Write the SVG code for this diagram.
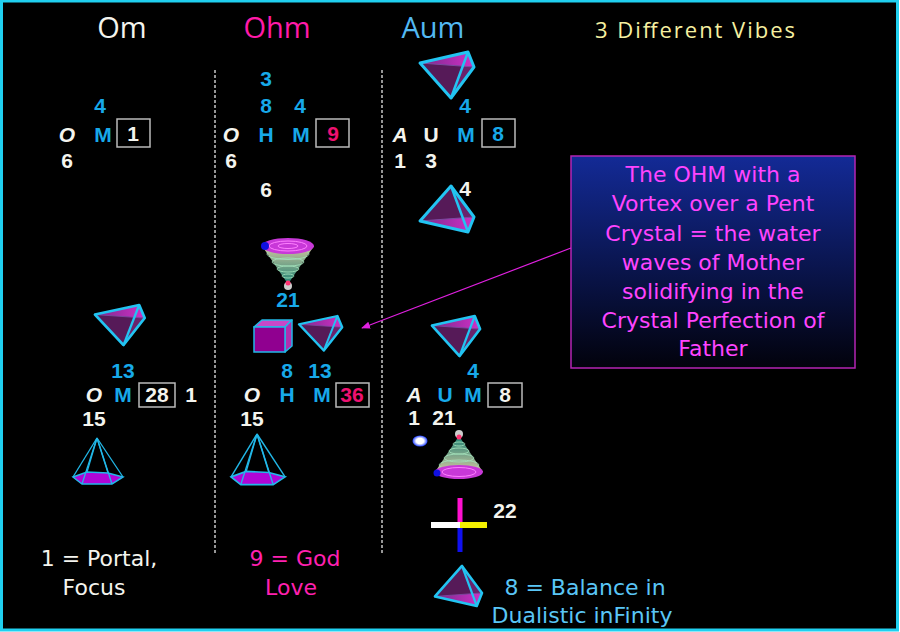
<svg xmlns="http://www.w3.org/2000/svg" xmlns:xlink="http://www.w3.org/1999/xlink" width="900" height="632" viewBox="0 0 900 632">
<style>
text{font-family:"Open Sans","Liberation Sans",sans-serif}
.h{font-size:29px;text-anchor:middle}
.b{font-family:"Liberation Sans",Arial,sans-serif;font-size:21px;font-weight:bold;text-anchor:middle}
.w{fill:#f4f4ee}
.c{fill:#17a9e9}
.it{font-style:italic}
.box{fill:none;stroke:#bbbbbb;stroke-width:1.5}
.dash{stroke:#c8c8c8;stroke-width:1.5;stroke-dasharray:3 2}
.cap{font-family:"DejaVu Sans",sans-serif;font-size:22px;text-anchor:middle}
.note{font-family:"DejaVu Sans",sans-serif;font-size:22px;text-anchor:middle;fill:#ff44ff}
</style>
<defs>
<linearGradient id="bg" x1="0" y1="0" x2="0" y2="1">
<stop offset="0" stop-color="#132a96"/>
<stop offset="1" stop-color="#02020c"/>
</linearGradient>
<linearGradient id="topf" x1="0" y1="0" x2="1" y2="0">
<stop offset="0" stop-color="#7a2a8a"/>
<stop offset="1" stop-color="#d030c8"/>
</linearGradient>
<linearGradient id="conef" x1="0" y1="0" x2="0" y2="1">
<stop offset="0" stop-color="#e8dcb0" stop-opacity="0.9"/>
<stop offset="1" stop-color="#209080" stop-opacity="0.9"/>
</linearGradient>
<linearGradient id="conef2" x1="0" y1="1" x2="0" y2="0">
<stop offset="0" stop-color="#e8dcb0" stop-opacity="0.9"/>
<stop offset="1" stop-color="#209080" stop-opacity="0.9"/>
</linearGradient>
<radialGradient id="glow">
<stop offset="0" stop-color="#ffffff"/>
<stop offset="0.5" stop-color="#ffffff"/>
<stop offset="1" stop-color="#2040ff"/>
</radialGradient>
<g id="tetra">
<polygon points="0,11 48,0 31,46" fill="#561a58"/>
<polygon points="48,0 54,15 31,46" fill="#6a226c"/>
<polygon points="0,11 48,0 54,15" fill="url(#topf)"/>
<line x1="0" y1="11" x2="54" y2="15" stroke="#7a4aa0" stroke-width="1"/>
<polygon points="0,11 48,0 54,15 31,46" fill="none" stroke="#22c4f2" stroke-width="3" stroke-linejoin="round"/>
<line x1="48" y1="0" x2="31" y2="46" stroke="#22c4f2" stroke-width="2.5"/>
</g>
<g id="pyr">
<polygon points="-24,39 -10,34 11,35 26,39 15,46 -15,46" fill="#b006d6" stroke="#22b8e8" stroke-width="1.5"/>
<g stroke="#22b8e8" stroke-width="1.3" fill="none">
<line x1="0" y1="0" x2="-24" y2="39"/>
<line x1="0" y1="0" x2="-10" y2="34"/>
<line x1="0" y1="0" x2="11" y2="35"/>
<line x1="0" y1="0" x2="26" y2="39"/>
<line x1="0" y1="0" x2="15" y2="46"/>
<line x1="0" y1="0" x2="-15" y2="46"/>
</g>
</g>
<marker id="ah" viewBox="0 0 10 10" refX="9" refY="5" markerWidth="9" markerHeight="9" orient="auto" markerUnits="userSpaceOnUse">
<path d="M0,1 L10,5 L0,9 z" fill="#e020e0"/>
</marker>
</defs>

<rect x="1.5" y="1" width="896" height="629" fill="#000" stroke="#20d0f0" stroke-width="3"/>

<g id="headers">
<text class="h w" x="122" y="38">Om</text>
<text class="h" x="277" y="38" fill="#ff1aa8">Ohm</text>
<text class="h" x="433" y="38" fill="#52b8f2">Aum</text>
<text x="595" y="38" font-size="22" fill="#f6f0a0" textLength="200" lengthAdjust="spacing">3 Different Vibes</text>
</g>

<g id="dividers">
<line class="dash" x1="215" y1="70" x2="215" y2="553"/>
<line class="dash" x1="382" y1="70" x2="382" y2="553"/>
</g>

<g id="om-top">
<text class="b c" x="100" y="113">4</text>
<text class="b w it" x="67" y="142">O</text>
<text class="b c" x="103" y="142">M</text>
<rect class="box" x="117" y="119" width="33" height="28"/>
<text class="b w" x="133" y="141">1</text>
<text class="b w" x="67" y="168">6</text>
</g>

<g id="ohm-top">
<text class="b c" x="266" y="86">3</text>
<text class="b c" x="266" y="113">8</text>
<text class="b c" x="300" y="113">4</text>
<text class="b w it" x="231" y="142">O</text>
<text class="b c" x="266" y="142">H</text>
<text class="b c" x="301" y="142">M</text>
<rect class="box" x="316" y="119" width="33" height="28"/>
<text class="b" x="333" y="141" fill="#ee1170">9</text>
<text class="b w" x="231" y="168">6</text>
<text class="b w" x="266" y="197">6</text>
</g>

<g id="aum-top">
<use xlink:href="#tetra" transform="translate(420,52)"/>
<text class="b c" x="465" y="113">4</text>
<text class="b w it" x="400" y="142">A</text>
<text class="b w" x="431" y="142">U</text>
<text class="b c" x="466" y="142">M</text>
<rect class="box" x="482" y="119" width="33" height="28"/>
<text class="b c" x="498" y="141">8</text>
<text class="b w" x="400" y="168">1</text>
<text class="b w" x="431" y="168">3</text>
<use xlink:href="#tetra" transform="translate(420,232) scale(1,-1)"/>
<text class="b w" x="465" y="196">4</text>
</g>

<g id="vortex">
<polygon points="262,246 314,246 288,284" fill="url(#conef)"/>
<g fill="none" stroke="#a8e8c0" stroke-width="1" opacity="0.8">
<ellipse cx="288" cy="254" rx="21" ry="5.5"/>
<ellipse cx="288" cy="262" rx="16" ry="4"/>
<ellipse cx="288" cy="269" rx="11" ry="3"/>
<ellipse cx="288" cy="276" rx="6" ry="2"/>
</g>
<ellipse cx="288" cy="246" rx="26" ry="8" fill="#c838d8"/>
<ellipse cx="288" cy="246" rx="19" ry="5" fill="none" stroke="#ff80ff" stroke-width="1"/>
<ellipse cx="288" cy="246" rx="10" ry="2.5" fill="none" stroke="#ff80ff" stroke-width="1"/>
<circle cx="265" cy="246" r="4" fill="#1010e0"/>
<circle cx="288" cy="286" r="4" fill="#ffffff" opacity="0.8"/>
<circle cx="288" cy="283" r="2.5" fill="#ff3070"/>
<text class="b c" x="288" y="307">21</text>
</g>

<g id="cube">
<polygon points="254,327 262,320 292,320 285,327" fill="#c848c8" stroke="#22b8e8" stroke-width="1.5" stroke-linejoin="round"/>
<polygon points="285,327 292,320 292,346 285,352" fill="#b030b0" stroke="#22b8e8" stroke-width="1.5" stroke-linejoin="round"/>
<rect x="254" y="327" width="31" height="25" fill="#900090" stroke="#22b8e8" stroke-width="1.5"/>
</g>
<g id="ohm-tetra">
<use xlink:href="#tetra" transform="translate(299,316) scale(0.8,0.75)"/>
</g>

<g id="note">
<rect x="571" y="156" width="284" height="212" fill="url(#bg)" stroke="#b424b4" stroke-width="1.5"/>
<text class="note" x="713" y="182">The OHM with a</text>
<text class="note" x="713" y="211">Vortex over a Pent</text>
<text class="note" x="713" y="241">Crystal = the water</text>
<text class="note" x="713" y="270">waves of Mother</text>
<text class="note" x="713" y="299">solidifying in the</text>
<text class="note" x="713" y="328">Crystal Perfection of</text>
<text class="note" x="713" y="356">Father</text>
</g>

<g id="connectors">
<line x1="571" y1="248" x2="362" y2="328" stroke="#e020e0" stroke-width="1.2" marker-end="url(#ah)"/>
</g>

<g id="om-bottom">
<use xlink:href="#tetra" transform="translate(95,305) scale(0.92,0.87)"/>
<text class="b c" x="123" y="378">13</text>
<text class="b w it" x="94" y="402">O</text>
<text class="b c" x="123" y="402">M</text>
<rect class="box" x="139" y="383" width="36" height="24"/>
<text class="b w" x="157" y="402">28</text>
<text class="b w" x="191" y="402">1</text>
<text class="b w" x="94" y="426">15</text>
<use xlink:href="#pyr" transform="translate(97,438)"/>
</g>

<g id="ohm-bottom">
<text class="b c" x="287" y="378">8</text>
<text class="b c" x="320" y="378">13</text>
<text class="b w it" x="252" y="402">O</text>
<text class="b c" x="287" y="402">H</text>
<text class="b c" x="322" y="402">M</text>
<rect class="box" x="336" y="383" width="33" height="24"/>
<text class="b" x="352" y="402" fill="#ee1170">36</text>
<text class="b w" x="252" y="426">15</text>
<use xlink:href="#pyr" transform="translate(257,434) scale(1.08,1.1)"/>
</g>

<g id="aum-bottom">
<use xlink:href="#tetra" transform="translate(432,316) scale(0.89,0.87)"/>
<text class="b c" x="473" y="378">4</text>
<text class="b w it" x="414" y="402">A</text>
<text class="b c" x="445" y="402">U</text>
<text class="b c" x="473" y="402">M</text>
<rect class="box" x="488" y="383" width="34" height="24"/>
<text class="b w" x="505" y="402">8</text>
<text class="b w" x="414" y="425">1</text>
<text class="b w" x="444" y="425">21</text>
<ellipse cx="420" cy="441" rx="7.5" ry="5.5" fill="url(#glow)"/>
</g>

<g id="cone">
<polygon points="435,472 483,472 459,436" fill="url(#conef2)"/>
<g fill="none" stroke="#a8e8c0" stroke-width="1" opacity="0.8">
<ellipse cx="459" cy="465" rx="20" ry="5"/>
<ellipse cx="459" cy="458" rx="15" ry="4"/>
<ellipse cx="459" cy="451" rx="10" ry="3"/>
<ellipse cx="459" cy="444" rx="6" ry="2"/>
</g>
<ellipse cx="459" cy="472" rx="24" ry="7" fill="#c838d8"/>
<ellipse cx="459" cy="472" rx="17" ry="4.5" fill="none" stroke="#ff80ff" stroke-width="1"/>
<circle cx="437" cy="473" r="3.5" fill="#1010e0"/>
<circle cx="459" cy="434" r="4" fill="#ffffff" opacity="0.8"/>
<circle cx="459" cy="437" r="2.5" fill="#ff3070"/>
</g>

<g id="cross">
<rect x="457.5" y="498" width="5" height="24" fill="#ff10d0"/>
<rect x="457.5" y="528" width="5" height="24" fill="#1010f0"/>
<rect x="431" y="522" width="29" height="6" fill="#ffffff"/>
<rect x="460" y="522" width="27" height="6" fill="#f4f000"/>
<text class="b w" x="505" y="518">22</text>
</g>

<g id="captions">
<text class="cap w" x="99" y="566">1 = Portal,</text>
<text class="cap w" x="94" y="595">Focus</text>
<text class="cap" x="295" y="566" fill="#ff20b0">9 = God</text>
<text class="cap" x="291" y="595" fill="#ff20b0">Love</text>
<use xlink:href="#tetra" transform="translate(435,606) scale(0.87,-0.87)"/>
<text class="cap" x="585" y="595" fill="#5ac6f6">8 = Balance in</text>
<text class="cap" x="582" y="623" fill="#5ac6f6">Dualistic inFinity</text>
</g>
</svg>
